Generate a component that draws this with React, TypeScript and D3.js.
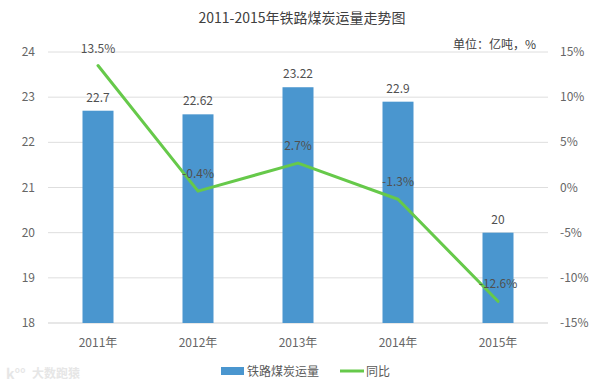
import { useEffect, useRef } from "react";
import * as d3 from "d3";

const years = ["2011年", "2012年", "2013年", "2014年", "2015年"];
const volume = [22.7, 22.62, 23.22, 22.9, 20];
const yoy = [13.5, -0.4, 2.7, -1.3, -12.6];
const leftTicks = [18, 19, 20, 21, 22, 23, 24];
const rightTicks = [-15, -10, -5, 0, 5, 10, 15];

const font = "'Noto Sans CJK SC', 'Open Sans', sans-serif";

export default function App() {
    const svgRef = useRef<SVGSVGElement>(null);

    useEffect(() => {
        const svg = d3.select(svgRef.current);
        svg.selectAll("*").remove();

        const left = 48, right = 548, top = 52, bottom = 323;
        const x = d3.scaleBand().domain(years).range([left, right]);
        const yL = d3.scaleLinear().domain([18, 24]).range([bottom, top]);
        const yR = d3.scaleLinear().domain([-15, 15]).range([bottom, top]);
        const cx = (d: string) => (x(d) as number) + x.bandwidth() / 2;

        svg.append("text")
            .attr("x", 302).attr("y", 23)
            .attr("text-anchor", "middle")
            .attr("font-size", 14).attr("fill", "#404040")
            .text("2011-2015年铁路煤炭运量走势图");

        svg.append("text")
            .attr("x", 536).attr("y", 49)
            .attr("text-anchor", "end")
            .attr("font-size", 12).attr("fill", "#404040")
            .text("单位：亿吨，%");

        // grid
        svg.selectAll("line.grid")
            .data(leftTicks)
            .join("line")
            .attr("class", "grid")
            .attr("x1", left).attr("x2", right)
            .attr("y1", d => yL(d)).attr("y2", d => yL(d))
            .attr("stroke", d => d === 18 ? "#cfcfcf" : "#dedede")
            .attr("stroke-width", 1);

        svg.selectAll("text.lt")
            .data(leftTicks)
            .join("text")
            .attr("class", "lt")
            .attr("x", 35).attr("y", d => yL(d) + 4)
            .attr("text-anchor", "end")
            .attr("font-size", 12).attr("fill", "#666")
            .text(d => d);

        svg.selectAll("text.rt")
            .data(rightTicks)
            .join("text")
            .attr("class", "rt")
            .attr("x", 560).attr("y", d => yR(d) + 4)
            .attr("font-size", 12).attr("fill", "#666")
            .text(d => d + "%");

        // bars
        const bw = 31;
        svg.selectAll("rect.bar")
            .data(volume)
            .join("rect")
            .attr("class", "bar")
            .attr("x", (d, i) => cx(years[i]) - bw / 2)
            .attr("width", bw)
            .attr("y", d => yL(d))
            .attr("height", d => bottom - yL(d))
            .attr("fill", "#4a96cf");

        svg.selectAll("text.bl")
            .data(volume)
            .join("text")
            .attr("class", "bl")
            .attr("x", (d, i) => cx(years[i]))
            .attr("y", d => yL(d) - 9)
            .attr("text-anchor", "middle")
            .attr("font-size", 12).attr("fill", "#505050")
            .text(d => d);

        // line
        const line = d3.line<number>()
            .x((d, i) => cx(years[i]))
            .y(d => yR(d));
        svg.append("path")
            .datum(yoy)
            .attr("d", line)
            .attr("fill", "none")
            .attr("stroke", "#66c94a")
            .attr("stroke-width", 3)
            .attr("stroke-linejoin", "round")
            .attr("stroke-linecap", "round");

        svg.selectAll("text.ll")
            .data(yoy)
            .join("text")
            .attr("class", "ll")
            .attr("x", (d, i) => cx(years[i]))
            .attr("y", d => yR(d) - 13)
            .attr("text-anchor", "middle")
            .attr("font-size", 12).attr("fill", "#505050")
            .text(d => d + "%");

        // x labels
        svg.selectAll("text.xl")
            .data(years)
            .join("text")
            .attr("class", "xl")
            .attr("x", d => cx(d))
            .attr("y", 347)
            .attr("text-anchor", "middle")
            .attr("font-size", 12).attr("fill", "#666")
            .text(d => d);

        // legend
        svg.append("rect")
            .attr("x", 221).attr("y", 367).attr("width", 23).attr("height", 8)
            .attr("fill", "#4a96cf");
        svg.append("text")
            .attr("x", 247).attr("y", 376)
            .attr("font-size", 12).attr("fill", "#595959")
            .text("铁路煤炭运量");
        svg.append("line")
            .attr("x1", 340).attr("x2", 364).attr("y1", 371).attr("y2", 371)
            .attr("stroke", "#66c94a").attr("stroke-width", 3);
        svg.append("text")
            .attr("x", 366).attr("y", 376)
            .attr("font-size", 12).attr("fill", "#595959")
            .text("同比");

        // watermark
        svg.append("text")
            .attr("x", 32).attr("y", 378)
            .attr("font-size", 12).attr("fill", "#e6e6e6")
            .attr("font-weight", "bold")
            .text("大数跑猿");
        svg.append("text")
            .attr("x", 6).attr("y", 379)
            .attr("font-size", 14).attr("fill", "#e6e6e6")
            .attr("font-weight", "bold")
            .text("k°°");
    }, []);

    return (
        <svg ref={svgRef} width={605} height={388}
            style={{ position: "absolute", left: 0, top: 0, fontFamily: font, background: "#fff" }} />
    );
}
